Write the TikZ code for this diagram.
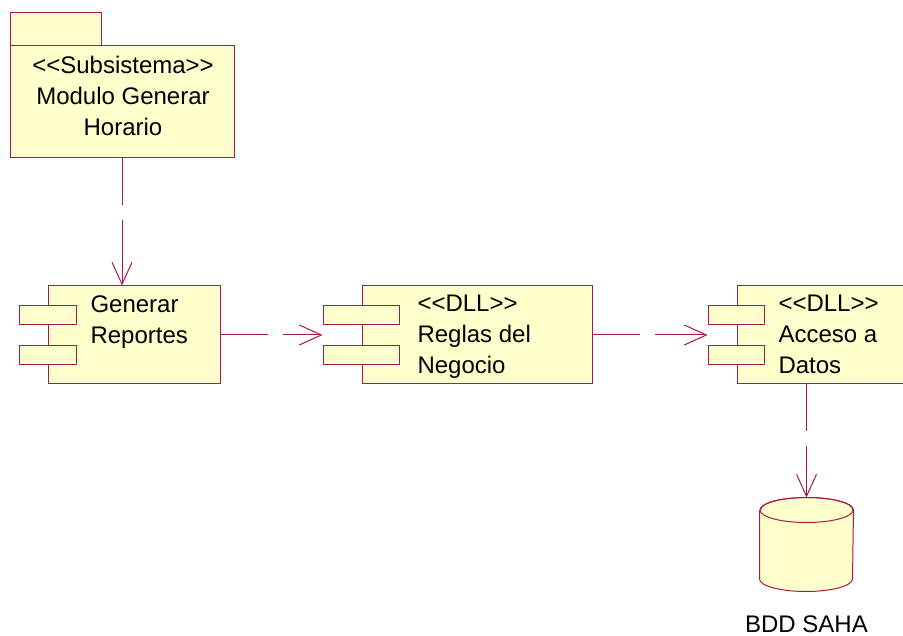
\documentclass[tikz,border=0pt]{standalone}
\usepackage{fontspec}
\setmainfont{Liberation Sans}
\usetikzlibrary{arrows.meta,positioning}
\definecolor{roseline}{RGB}{170,25,75}
\definecolor{rosefill}{RGB}{255,255,204}

\begin{document}
\begin{tikzpicture}[x=1pt, y=-1pt, font=\fontsize{24}{31}\selectfont, line width=1pt]
    % Style Definitions
    \tikzstyle{comp} = [rectangle, draw=roseline, fill=rosefill, minimum height=98]
    \tikzstyle{compport} = [rectangle, draw=roseline, fill=rosefill, minimum height=19]
    \tikzstyle{pkg} = [rectangle, draw=roseline, fill=rosefill]
    \tikzstyle{txt} = [inner sep=0, align=left, anchor=north west]
    \tikzstyle{dep} = [draw=roseline, dash pattern=on 47pt off 15pt on 300pt off 15pt, -{Straight Barb[length=22pt, width=20pt]}]

    \useasboundingbox (0,0) rectangle (903,636);
    \clip (0,0) rectangle (903,636);

    % Nodes
    \node (subsistab) [pkg, minimum width=91, minimum height=33] at (55.5,29.2) {};
    \node (subsis) [pkg, minimum width=224, minimum height=111.3] at (122,101.4) {};
    \node (subsistxt) [inner sep=0, align=center, anchor=north] at (123,55.4) {<{}<Subsistema>{}>\\Modulo Generar\\Horario};

    \node (reportes) [comp, minimum width=172] at (134,335) {};
    \node (reportes1) [compport, minimum width=57] at (47.5,315.5) {};
    \node (reportes2) [compport, minimum width=57] at (47.5,355) {};
    \node (reportestxt) [txt] at (90,294.8) {Generar\\Reportes};

    \node (reglas) [comp, minimum width=230] at (477,335) {};
    \node (reglas1) [compport, minimum width=76] at (361,315.5) {};
    \node (reglas2) [compport, minimum width=76] at (361,355) {};
    \node (reglastxt) [txt] at (417,294.5) {<{}<DLL>{}>\\Reglas del\\Negocio};

    \node (acceso) [comp, minimum width=230] at (852,335) {};
    \node (acceso1) [compport, minimum width=56] at (736,315.5) {};
    \node (acceso2) [compport, minimum width=56] at (736,355) {};
    \node (accesotxt) [txt] at (778,294.5) {<{}<DLL>{}>\\Acceso a\\Datos};

    % Database
    \node (db) [minimum width=93, minimum height=93, inner sep=0] at (806.5,544.5) {};
    \filldraw [draw=roseline, fill=rosefill] (db.north west) ++(0,12.5) -- ([yshift=12.5]db.south west)
        arc [start angle=180, end angle=0, x radius=46.5, y radius=12.5] -- ([yshift=-12.5]db.north east)
        arc [start angle=0, end angle=-180, x radius=46.5, y radius=12.5];
    \draw [roseline] ([yshift=-12.5]db.north) ellipse [x radius=46.5, y radius=12.5];
    \node (dblabel) [anchor=base] at (806.5,632) {BDD SAHA};

    % Arrows
    \draw [dep] (subsis.south) -- (reportes.north -| subsis.south);
    \draw [dep] (reportes.east) -- (reglas1.west |- reglas.west);
    \draw [dep] (reglas.east) -- (acceso1.west |- acceso.west);
    \draw [dep] (acceso.south -| db.north) -- (db.north);

\end{tikzpicture}
\end{document}
